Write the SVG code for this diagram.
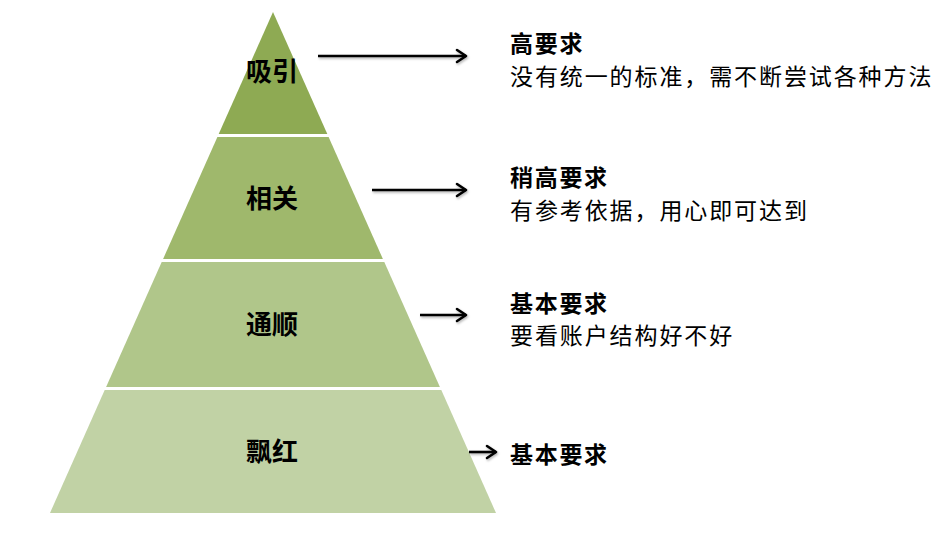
<svg xmlns="http://www.w3.org/2000/svg" width="950" height="548" viewBox="0 0 950 548">
<style>
  .lbl { font-family: "Noto Sans CJK SC", sans-serif; font-size: 26px; font-weight: bold; fill: #000; text-anchor: middle; }
  .hd { font-family: "Noto Sans CJK SC", sans-serif; font-size: 23px; font-weight: bold; fill: #000; letter-spacing: 1.7px; }
  .tx { font-family: "Noto Sans CJK SC", sans-serif; font-size: 23px; fill: #000; letter-spacing: 1.9px; }
  .arrow { stroke: #000; stroke-width: 2.6; fill: none; marker-end: url(#head); filter: url(#sh); }
</style>
<defs>
  <marker id="head" markerUnits="userSpaceOnUse" markerWidth="16" markerHeight="16" viewBox="-12 -8 16 16" refX="0" refY="0" orient="auto">
    <path d="M-9,-6 L0,0 L-9,6" fill="none" stroke="#000" stroke-width="2.6" stroke-linecap="round" stroke-linejoin="round"/>
  </marker>
  <filter id="sh" filterUnits="userSpaceOnUse" x="0" y="0" width="950" height="548">
    <feDropShadow dx="1" dy="1.5" stdDeviation="1" flood-color="#000" flood-opacity="0.3"/>
  </filter>
</defs>
<rect width="950" height="548" fill="#fff"/>
<g id="layer1">
  <polygon points="273,12 327.3,134 218.7,134" fill="#8eaa53"/>
  <text class="lbl" x="272" y="81">吸引</text>
</g>
<g id="layer2">
  <polygon points="217.4,137 328.6,137 382.9,259 163.1,259" fill="#9fb86c"/>
  <text class="lbl" x="272" y="208">相关</text>
</g>
<g id="layer3">
  <polygon points="161.7,262 384.3,262 439.9,387 106.1,387" fill="#b0c68a"/>
  <text class="lbl" x="272" y="334">通顺</text>
</g>
<g id="layer4">
  <polygon points="104.7,390 441.3,390 496,513 50,513" fill="#c1d2a5"/>
  <text class="lbl" x="272" y="461">飘红</text>
</g>
<g id="connectors">
  <line class="arrow" x1="318" y1="56" x2="466" y2="56"/>
  <line class="arrow" x1="372" y1="190" x2="466" y2="190"/>
  <line class="arrow" x1="420" y1="315" x2="466" y2="315"/>
  <line class="arrow" x1="469" y1="452" x2="496" y2="452"/>
</g>
<g id="desc1">
  <text class="hd" x="510" y="52">高要求</text>
  <text class="tx" x="510" y="85">没有统一的标准，需不断尝试各种方法</text>
</g>
<g id="desc2">
  <text class="hd" x="510" y="186">稍高要求</text>
  <text class="tx" x="510" y="219">有参考依据，用心即可达到</text>
</g>
<g id="desc3">
  <text class="hd" x="510" y="312">基本要求</text>
  <text class="tx" x="510" y="344">要看账户结构好不好</text>
</g>
<g id="desc4">
  <text class="hd" x="510" y="463">基本要求</text>
</g>
</svg>
